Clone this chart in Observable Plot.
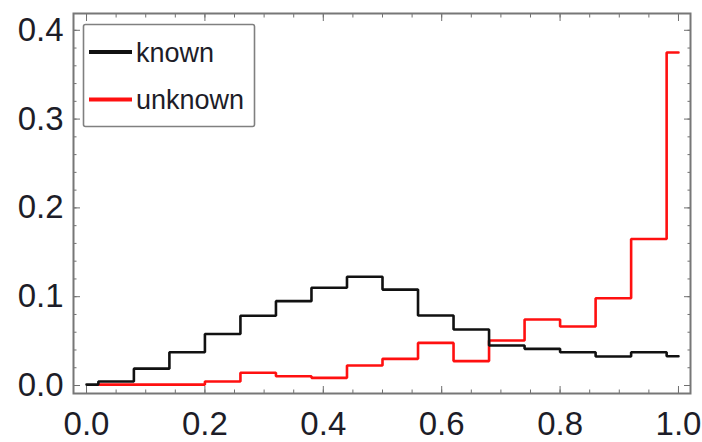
<!DOCTYPE html>
<html><head><meta charset="utf-8">
<script src="https://cdn.jsdelivr.net/npm/d3@7"></script>
<script src="https://cdn.jsdelivr.net/npm/@observablehq/plot@0.6"></script>
<style>
body{margin:0;background:#fff;}
#wrap{position:relative;width:702px;height:442px;}
#legend{position:absolute;left:0;top:0;pointer-events:none;}
</style></head><body><div id="wrap"></div>
<script>
// Histogram bin edges (shared by both series)
const binEdges = [0, 0.02, 0.08, 0.14, 0.20, 0.26, 0.32, 0.38, 0.44, 0.50, 0.56, 0.62, 0.68, 0.74, 0.80, 0.86, 0.92, 0.98, 1.0];
// Bin heights
const knownValues   = [0.001, 0.0045, 0.019, 0.0375, 0.058, 0.0785, 0.095, 0.110, 0.1225, 0.108, 0.0788, 0.063, 0.045, 0.0413, 0.0375, 0.0327, 0.0375, 0.033];
const unknownValues = [null, 0.001, 0.001, 0.001, 0.0045, 0.0143, 0.0105, 0.0086, 0.0225, 0.030, 0.048, 0.0275, 0.0507, 0.0743, 0.0664, 0.0983, 0.165, 0.375];
const seriesNames = ["known", "unknown"];
const seriesColors = ["#111111", "#ff1010"];
const xMajorTicks = [0, 0.2, 0.4, 0.6, 0.8, 1.0];
const xMinorTicks = [0, 0.05, 0.1, 0.15, 0.2, 0.25, 0.3, 0.35, 0.4, 0.45, 0.5, 0.55, 0.6, 0.65, 0.7, 0.75, 0.8, 0.85, 0.9, 0.95, 1.0];
const yMajorTicks = [0, 0.1, 0.2, 0.3, 0.4];
const yMinorTicks = [0, 0.02, 0.04, 0.06, 0.08, 0.1, 0.12, 0.14, 0.16, 0.18, 0.2, 0.22, 0.24, 0.26, 0.28, 0.3, 0.32, 0.34, 0.36, 0.38, 0.4];

function steps(vals, name) {
  const pts = [];
  vals.forEach((v, i) => {
    if (v == null) return;
    pts.push({x: binEdges[i], y: v, s: name}, {x: binEdges[i + 1], y: v, s: name});
  });
  return pts;
}
const knownPts = steps(knownValues, seriesNames[0]);
const unknownPts = steps(unknownValues, seriesNames[1]);

const tickColor = "#6f6f6f";
const labelFont = 33;

const chart = Plot.plot({
  width: 702,
  height: 442,
  marginLeft: 73,
  marginRight: 12,
  marginTop: 13,
  marginBottom: 49,
  style: {fontFamily: "'Liberation Sans', Arial, Helvetica, sans-serif", color: "#1d1d28", background: "#fff"},
  x: {domain: [-0.022, 1.0203]},
  y: {domain: [-0.009, 0.4189]},
  marks: [
    // minor ticks, inward on all sides
    Plot.axisX({anchor: "bottom", ticks: xMinorTicks, tickSize: -3.5, text: null, label: null, stroke: tickColor}),
    Plot.axisX({anchor: "top", ticks: xMinorTicks, tickSize: -3.5, text: null, label: null, stroke: tickColor}),
    Plot.axisY({anchor: "left", ticks: yMinorTicks, tickSize: -3.5, text: null, label: null, stroke: tickColor}),
    Plot.axisY({anchor: "right", ticks: yMinorTicks, tickSize: -3.5, text: null, label: null, stroke: tickColor}),
    // major ticks
    Plot.axisX({anchor: "bottom", ticks: xMajorTicks, tickSize: -7, text: null, label: null, stroke: tickColor}),
    Plot.axisX({anchor: "top", ticks: xMajorTicks, tickSize: -7, text: null, label: null, stroke: tickColor}),
    Plot.axisY({anchor: "left", ticks: yMajorTicks, tickSize: -7, text: null, label: null, stroke: tickColor}),
    Plot.axisY({anchor: "right", ticks: yMajorTicks, tickSize: -7, text: null, label: null, stroke: tickColor}),
    // labels
    Plot.axisX({anchor: "bottom", ticks: xMajorTicks, tickSize: 0, tickPadding: 18, label: null, tickFormat: d => d.toFixed(1), fontSize: labelFont}),
    Plot.axisY({anchor: "left", ticks: yMajorTicks, tickSize: 0, tickPadding: 10, label: null, tickFormat: d => d.toFixed(1), fontSize: labelFont}),
    Plot.frame({stroke: "#777", strokeWidth: 2}),
    Plot.line(unknownPts, {x: "x", y: "y", stroke: seriesColors[1], strokeWidth: 2.6, strokeLinejoin: "miter"}),
    Plot.line(knownPts, {x: "x", y: "y", stroke: seriesColors[0], strokeWidth: 2.6, strokeLinejoin: "miter"})
  ]
});
const wrap = document.getElementById("wrap");
wrap.appendChild(chart);

// Legend overlay
const ns = "http://www.w3.org/2000/svg";
const lg = document.createElementNS(ns, "svg");
lg.setAttribute("id", "legend");
lg.setAttribute("width", 702);
lg.setAttribute("height", 442);
const box = document.createElementNS(ns, "rect");
box.setAttribute("x", 83.5); box.setAttribute("y", 24.5);
box.setAttribute("width", 171); box.setAttribute("height", 102);
box.setAttribute("rx", 2);
box.setAttribute("fill", "#fff"); box.setAttribute("stroke", "#808080"); box.setAttribute("stroke-width", 1.6);
lg.appendChild(box);
seriesNames.forEach((name, i) => {
  const cy = 52 + i * 47.5;
  const ln = document.createElementNS(ns, "line");
  ln.setAttribute("x1", 89); ln.setAttribute("x2", 132);
  ln.setAttribute("y1", cy); ln.setAttribute("y2", cy);
  ln.setAttribute("stroke", seriesColors[i]); ln.setAttribute("stroke-width", 4);
  lg.appendChild(ln);
  const t = document.createElementNS(ns, "text");
  t.setAttribute("x", 136); t.setAttribute("y", cy + 9.5);
  t.setAttribute("font-size", 27);
  t.setAttribute("font-family", "'Liberation Sans', Arial, Helvetica, sans-serif");
  t.setAttribute("fill", "#1d1d28");
  t.textContent = name;
  lg.appendChild(t);
});
wrap.appendChild(lg);
</script>
</body></html>
